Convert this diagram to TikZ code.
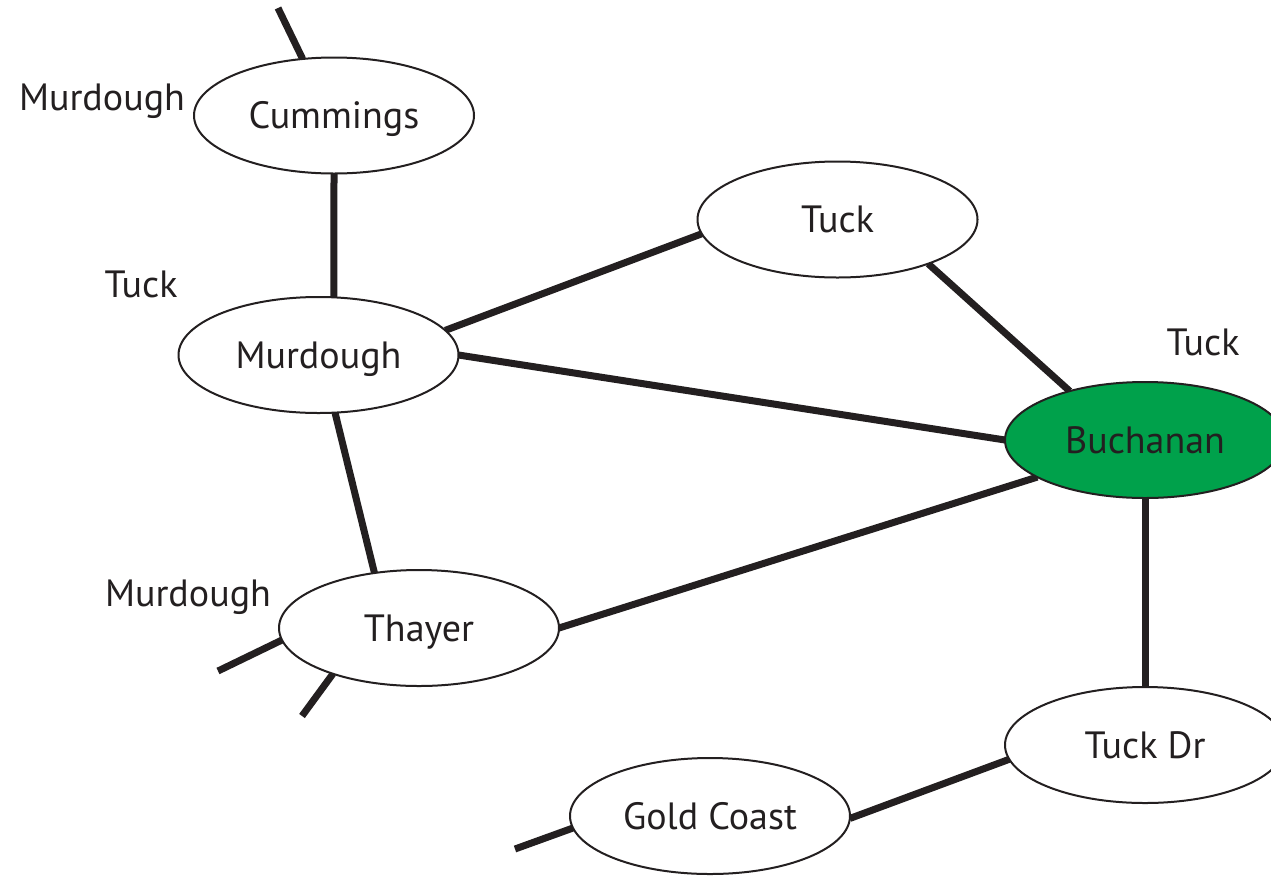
\documentclass[tikz,border=0pt]{standalone}
\usepackage{fontspec}
\setmainfont{PT Sans}
\usetikzlibrary{shapes.geometric,backgrounds}
\definecolor{ink}{HTML}{231F20}
\definecolor{hall}{RGB}{0,161,75}
\begin{document}
\begin{tikzpicture}[x=1pt,y=-1pt,
  place/.style={ellipse, draw=ink, line width=2pt, fill=white,
    minimum width=280pt, minimum height=116pt, inner sep=0pt, outer sep=0pt,
    text height=26pt, text depth=0pt,
    font=\fontsize{38}{42}\selectfont, text=ink},
  road/.style={draw=ink, line width=7pt},
  tag/.style={font=\fontsize{38}{42}\selectfont, text=ink, inner sep=0pt, anchor=base}]
\useasboundingbox (0,0) rectangle (1271,876);
\clip (0,0) rectangle (1271,876);

% halls
\node[place] (cum) at (334,115.5) {Cummings};
\node[place] (tuckA) at (837.5,219.5) {Tuck};
\node[place] (murd) at (318.5,355) {Murdough};
\node[place, fill=hall] (buch) at (1145,440) {Buchanan};
\node[place] (thayer) at (419,628) {Thayer};
\node[place] (tuckdr) at (1145,745) {Tuck Dr};
\node[place] (gold) at (710,816) {Gold Coast};

% side labels
\node[tag] (lblA) at (102,110) {Murdough};
\node[tag] (lblB) at (141,297) {Tuck};
\node[tag] (lblC) at (1203,355) {Tuck};
\node[tag] (lblD) at (188,606) {Murdough};

% loose ends of paths
\coordinate (s1) at (278,8);
\coordinate (s2) at (218,671);
\coordinate (s3) at (302,716);
\coordinate (s4) at (515,849);

% paths between halls
\begin{scope}[on background layer]
\draw[road] (s1) -- (cum.119);
\draw[road] (cum.south) -- (murd.75);
\draw[road] (murd.11) -- (tuckA.186);
\draw[road] (murd.east) -- (buch.west);
\draw[road] (tuckA.-26) -- (buch.147);
\draw[road] (murd.-74) -- (thayer.129);
\draw[road] (thayer.east) -- (buch.199);
\draw[road] (buch.south) -- (tuckdr.north);
\draw[road] (tuckdr.186) -- (gold.-1);
\draw[road] (gold.185) -- (s4);
\draw[road] (thayer.185) -- (s2);
\draw[road] (thayer.208) -- (s3);
\end{scope}
\end{tikzpicture}
\end{document}
